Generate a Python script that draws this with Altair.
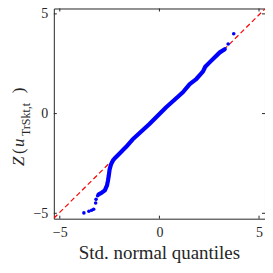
import altair as alt
import pandas as pd

# Dense part of the QQ curve (standard normal quantile, sample quantile)
curve_x = [-3.05, -2.91, -2.74, -2.63, -2.58, -2.54, -2.50, -2.43, -2.33, -2.20, -2.00, -1.68,
           -1.35, -0.50, 0.34, 1.18, 1.52, 1.85, 2.19, 2.30, 2.53, 2.78, 3.03, 3.28]
curve_y = [-4.05, -3.98, -3.85, -3.60, -3.35, -3.10, -2.80, -2.55, -2.35, -2.20, -2.00, -1.68,
           -1.30, -0.52, 0.32, 1.07, 1.48, 1.73, 2.12, 2.35, 2.58, 2.83, 3.07, 3.23]
# Sparse tail points
tail_x = [-3.79, -3.54, -3.40, -3.30, -3.20, -3.18, -3.10, 3.45, 3.73]
tail_y = [-4.98, -4.90, -4.85, -4.80, -4.48, -4.30, -4.12, 3.49, 4.00]
# Reference line
ref_x = [-5.3, 5.3]
ref_y = [-5.25, 5.25]
# Ticks
tick_vals = [-5, 0, 5]

W, H = 212, 211
XD = [-5.3, 5.3]
YD = [-5.27, 5.27]
FONT = "Liberation Serif"
AX = "#262626"

xs = alt.Scale(domain=XD, nice=False, zero=False)
ys = alt.Scale(domain=YD, nice=False, zero=False)

curve_df = pd.DataFrame({"x": curve_x, "y": curve_y, "o": list(range(len(curve_x)))})
tail_df = pd.DataFrame({"x": tail_x, "y": tail_y})
ref_df = pd.DataFrame({"x": ref_x, "y": ref_y})
tick_df = pd.DataFrame({"v": tick_vals})

common = dict(values=tick_vals, ticks=False, grid=False, domain=False, labelFlush=False,
              labelFont=FONT, labelFontSize=14, labelColor=AX)
xaxis = alt.Axis(labelPadding=7, title=None, **common)
yaxis = alt.Axis(labelPadding=6, title=None, **common)

ref = alt.Chart(ref_df).mark_line(color="#ff0000", strokeWidth=1.2, strokeDash=[5, 3], clip=True).encode(
    x=alt.X("x:Q", scale=xs, axis=xaxis),
    y=alt.Y("y:Q", scale=ys, axis=yaxis),
)
curve = alt.Chart(curve_df).mark_line(color="#0000ff", strokeWidth=4.2, strokeCap="round",
                                      strokeJoin="round").encode(
    x=alt.X("x:Q", scale=xs), y=alt.Y("y:Q", scale=ys), order="o:Q")
tails = alt.Chart(tail_df).mark_circle(color="#0000ff", size=13, opacity=1).encode(
    x=alt.X("x:Q", scale=xs), y=alt.Y("y:Q", scale=ys))

tick_kw = dict(color=AX, strokeWidth=1)
tb = alt.Chart(tick_df).mark_rule(**tick_kw).encode(
    x=alt.X("v:Q", scale=xs), y=alt.value(H), y2=alt.value(H - 3))
tt = alt.Chart(tick_df).mark_rule(**tick_kw).encode(
    x=alt.X("v:Q", scale=xs), y=alt.value(0), y2=alt.value(3))
tl = alt.Chart(tick_df).mark_rule(**tick_kw).encode(
    y=alt.Y("v:Q", scale=ys), x=alt.value(0), x2=alt.value(3))
tr = alt.Chart(tick_df).mark_rule(**tick_kw).encode(
    y=alt.Y("v:Q", scale=ys), x=alt.value(W), x2=alt.value(W - 3))

one = alt.Data(values=[{"a": 1}])

def txt(t, xpx, ypx, size, italic=False, angle=270, align="left"):
    return alt.Chart(one).mark_text(angle=angle, align=align, baseline="alphabetic", font=FONT,
                                    fontSize=size, fontStyle="italic" if italic else "normal",
                                    color=AX).encode(
        x=alt.value(xpx), y=alt.value(ypx), text=alt.value(t))

title_parts = [
    txt("Z", -30, 158, 17, True),
    txt("(", -30, 146, 17),
    txt("u", -30, 139, 17, True),
    txt("TrSkt,t", -24, 128, 12),
    txt(")", -30, 85, 17),
    txt("Std. normal quantiles", W / 2, 251, 19, angle=0, align="center"),
]

chart = alt.layer(ref, curve, tails, tb, tt, tl, tr, *title_parts).properties(
    width=W, height=H, background="white",
    autosize=alt.AutoSizeParams(type="none"),
    padding={"left": 46, "top": 0, "right": 0, "bottom": 46},
).configure_view(stroke=AX, strokeWidth=1)

chart.save("out.html", embed_options={"renderer": "svg", "actions": False})
